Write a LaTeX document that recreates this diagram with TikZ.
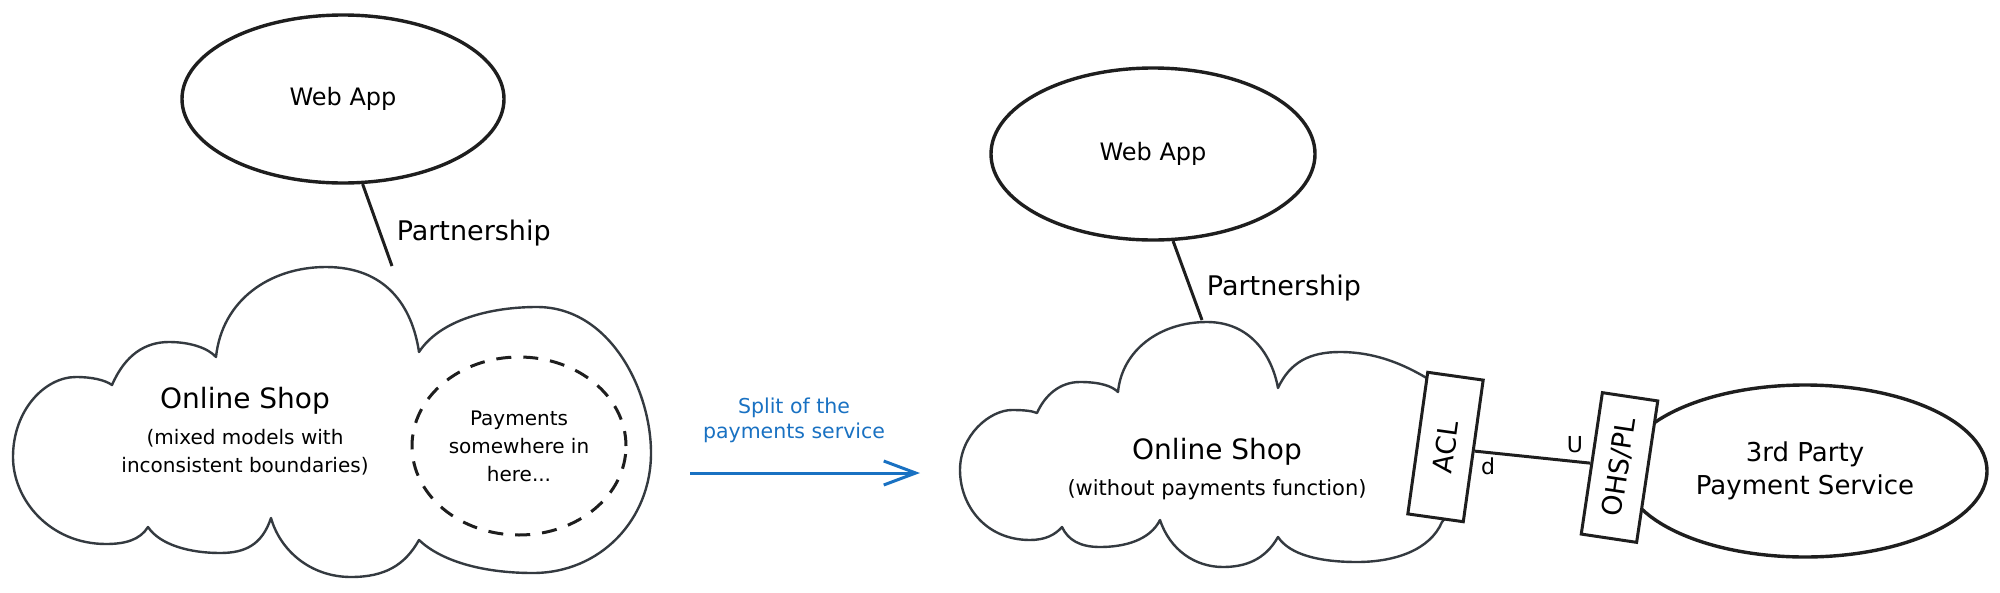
\documentclass[tikz,border=0pt]{standalone}
\usepackage{fontspec}
\setmainfont{DejaVu Sans}
\usetikzlibrary{shapes.geometric, arrows.meta, positioning}
\definecolor{inkblack}{RGB}{30, 30, 30}
\definecolor{cloudgray}{RGB}{52, 58, 64}
\definecolor{splitblue}{RGB}{25, 113, 194}

\begin{document}
\begin{tikzpicture}[
    x=1pt, y=-1pt,
    context/.style={ellipse, draw=inkblack, line width=3.4pt, fill=white, inner sep=0pt, align=center, font=\fontsize{24}{33}\selectfont},
    layer/.style={rectangle, draw=inkblack, line width=3pt, fill=white, minimum width=143pt, minimum height=56pt, inner sep=0pt, font=\fontsize{27}{30}\selectfont},
    boundary/.style={draw=cloudgray, line width=2.4pt, fill=white, line join=round},
    title/.style={inner sep=0pt, font=\fontsize{28}{34}\selectfont},
    note/.style={inner sep=0pt, align=center, font=\fontsize{20}{28}\selectfont},
    relation/.style={draw=inkblack, line width=3pt},
    tag/.style={inner sep=0pt, font=\fontsize{27}{30}\selectfont},
    split/.style={draw=splitblue, line width=3pt, -{Straight Barb[length=32pt, width=24pt]}}
]
\useasboundingbox (0,0) rectangle (2000,592);

% before the split
\draw[boundary] (112,385)
    .. controls (125,355) and (145,342) .. (169,342)
    .. controls (190,342) and (208,348) .. (216,357)
    .. controls (222,300) and (270,267) .. (326,267)
    .. controls (385,267) and (412,305) .. (419,352)
    .. controls (440,320) and (490,307) .. (537,307)
    .. controls (610,307) and (651,390) .. (651,453)
    .. controls (651,520) and (600,573) .. (533,573)
    .. controls (480,573) and (440,560) .. (419,540)
    .. controls (405,565) and (385,577) .. (351,577)
    .. controls (310,577) and (280,550) .. (271,518)
    .. controls (262,545) and (245,553) .. (220,553)
    .. controls (190,553) and (160,545) .. (148,527)
    .. controls (140,540) and (125,544) .. (106,544)
    .. controls (50,544) and (13,500) .. (13,457)
    .. controls (13,410) and (45,377) .. (76,377)
    .. controls (92,377) and (105,380) .. (112,385) -- cycle;

\node (webL) [context, minimum width=322pt, minimum height=168pt] at (343,99) {Web App};
\coordinate (shopLtop) at (392,266);
\node (shopL) [title] at (245,401) {Online Shop};
\node (shopLnote) [note, below=14pt of shopL] {(mixed models with\\inconsistent boundaries)};
\node (payments) [context, line width=3pt, dash pattern=on 15pt off 12pt, minimum width=214pt, minimum height=178pt, font=\fontsize{20}{28}\selectfont] at (519,446) {Payments\\somewhere in\\here...};

\draw[relation] (webL.-77) -- (shopLtop) node [pos=0.6, right=15pt, tag] {Partnership};

% the split
\coordinate (splitfrom) at (690,473);
\coordinate (splitto) at (920,473);
\draw[split] (splitfrom) -- (splitto);
\node (splitnote) [note, text=splitblue, font=\fontsize{20.5}{25}\selectfont] at (794,420) {Split of the\\payments service};

% after the split
\node (thirdparty) [context, minimum width=364pt, minimum height=172pt, font=\fontsize{26}{33}\selectfont] at (1805,471) {3rd Party\\Payment Service};

\draw[boundary] (1037,413)
    .. controls (1045,395) and (1060,382) .. (1080,382)
    .. controls (1100,382) and (1112,386) .. (1118,392)
    .. controls (1122,350) and (1160,322) .. (1207,322)
    .. controls (1250,322) and (1272,355) .. (1278,388)
    .. controls (1290,362) and (1310,352) .. (1340,352)
    .. controls (1380,352) and (1410,368) .. (1430,380)
    .. controls (1465,405) and (1470,490) .. (1442,522)
    .. controls (1430,550) and (1395,562) .. (1357,562)
    .. controls (1320,562) and (1290,555) .. (1278,537)
    .. controls (1265,560) and (1245,567) .. (1223,567)
    .. controls (1195,567) and (1170,550) .. (1160,520)
    .. controls (1150,540) and (1125,547) .. (1100,547)
    .. controls (1080,547) and (1068,540) .. (1062,527)
    .. controls (1055,535) and (1045,540) .. (1030,540)
    .. controls (985,540) and (960,505) .. (960,470)
    .. controls (960,435) and (990,410) .. (1012,410)
    .. controls (1025,410) and (1032,411) .. (1037,413) -- cycle;

\node (webR) [context, minimum width=324pt, minimum height=172pt] at (1153,154) {Web App};
\coordinate (shopRtop) at (1202,320);
\node (shopR) [title] at (1217,452) {Online Shop};
\node (shopRnote) [note, font=\fontsize{21}{28}\selectfont, below=14pt of shopR] {(without payments function)};

\node (acl) [layer, rotate=82] at (1445.5,447) {ACL};
\node (ohs) [layer, rotate=81.5] at (1619.5,467.5) {OHS/PL};

\draw[relation] (webR.-77) -- (shopRtop) node [pos=0.6, right=15pt, tag] {Partnership};
\draw[relation] (acl.south) -- (ohs.north);
\node (down) [tag, font=\fontsize{22}{26}\selectfont] at (1488,466) {d};
\node (up) [tag, font=\fontsize{22}{26}\selectfont] at (1575,445) {U};

\end{tikzpicture}
\end{document}
